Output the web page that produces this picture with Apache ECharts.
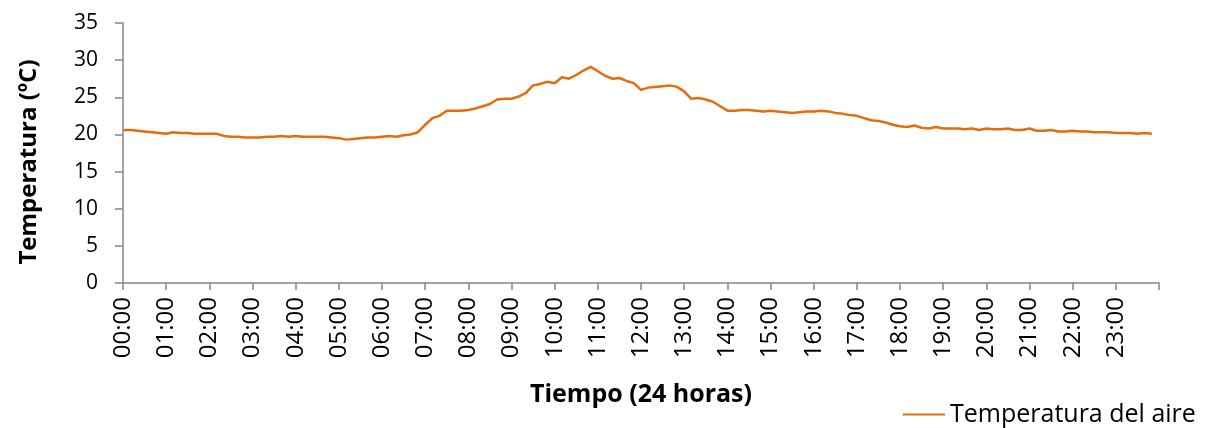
<!DOCTYPE html>
<html>
<head>
<meta charset="utf-8">
<script src="https://cdn.jsdelivr.net/npm/echarts@6/dist/echarts.min.js"></script>
<style>
  html, body { margin: 0; padding: 0; background: #fff; }
  #chart { width: 1219px; height: 428px; }
</style>
</head>
<body>
<div id="chart"></div>
<script>
// readings every 10 minutes, from 00:00 to 23:50
var times = [];
for (var h = 0; h < 24; h++) {
  for (var m = 0; m < 60; m += 10) {
    times.push((h < 10 ? '0' + h : '' + h) + ':' + (m < 10 ? '0' + m : '' + m));
  }
}

var airTemp = [
  20.6, 20.6, 20.5, 20.4, 20.3, 20.2,   // 00
  20.1, 20.3, 20.2, 20.2, 20.1, 20.1,   // 01
  20.1, 20.1, 19.8, 19.7, 19.7, 19.6,   // 02
  19.6, 19.6, 19.7, 19.7, 19.8, 19.7,   // 03
  19.8, 19.7, 19.7, 19.7, 19.7, 19.6,   // 04
  19.5, 19.3, 19.4, 19.5, 19.6, 19.6,   // 05
  19.7, 19.8, 19.7, 19.9, 20.0, 20.3,   // 06
  21.3, 22.2, 22.5, 23.2, 23.2, 23.2,   // 07
  23.3, 23.5, 23.8, 24.1, 24.7, 24.8,   // 08
  24.8, 25.1, 25.6, 26.6, 26.8, 27.1,   // 09
  26.9, 27.7, 27.5, 28.0, 28.6, 29.1,   // 10
  28.5, 27.9, 27.5, 27.6, 27.2, 26.9,   // 11
  26.0, 26.3, 26.4, 26.5, 26.6, 26.4,   // 12
  25.8, 24.8, 24.9, 24.7, 24.4, 23.8,   // 13
  23.2, 23.2, 23.3, 23.3, 23.2, 23.1,   // 14
  23.2, 23.1, 23.0, 22.9, 23.0, 23.1,   // 15
  23.1, 23.2, 23.1, 22.9, 22.8, 22.6,   // 16
  22.5, 22.2, 21.9, 21.8, 21.6, 21.3,   // 17
  21.1, 21.0, 21.2, 20.9, 20.8, 21.0,   // 18
  20.8, 20.8, 20.8, 20.7, 20.8, 20.6,   // 19
  20.8, 20.7, 20.7, 20.8, 20.6, 20.6,   // 20
  20.8, 20.5, 20.5, 20.6, 20.4, 20.4,   // 21
  20.5, 20.4, 20.4, 20.3, 20.3, 20.3,   // 22
  20.2, 20.2, 20.2, 20.1, 20.2, 20.1    // 23
];

var hourLabels = ['00:00','01:00','02:00','03:00','04:00','05:00','06:00','07:00',
  '08:00','09:00','10:00','11:00','12:00','13:00','14:00','15:00',
  '16:00','17:00','18:00','19:00','20:00','21:00','22:00','23:00'];

var seriesName = 'Temperatura del aire';
var fontName = 'Open Sans';

function toHours(t) {
  var p = t.split(':');
  return parseInt(p[0], 10) + parseInt(p[1], 10) / 60;
}

var points = times.map(function (t, i) {
  return [toHours(t), airTemp[i]];
});

var chart = echarts.init(document.getElementById('chart'));

var option = {
  animation: false,
  grid: { left: 123, right: 60, top: 23, bottom: 145 },
  legend: {
    left: 898,
    top: 397,
    icon: 'rect',
    itemWidth: 42,
    itemHeight: 2,
    itemGap: 4,
    textStyle: { fontFamily: fontName, fontSize: 25, color: '#000' },
    data: [seriesName]
  },
  xAxis: {
    type: 'value',
    min: 0,
    max: 24,
    interval: 1,
    name: 'Tiempo (24 horas)',
    nameLocation: 'middle',
    nameGap: 99,
    nameTextStyle: { fontFamily: fontName, fontSize: 25, fontWeight: 'bold', color: '#000' },
    axisLine: { lineStyle: { color: '#868686', width: 1.5 } },
    axisTick: { length: 7, lineStyle: { color: '#868686', width: 1.5 } },
    axisLabel: {
      rotate: 90,
      margin: 14,
      fontFamily: fontName,
      fontSize: 24,
      color: '#000',
      formatter: function (v) { return hourLabels[v] || ''; }
    },
    splitLine: { show: false }
  },
  yAxis: {
    type: 'value',
    min: 0,
    max: 35,
    interval: 5,
    name: 'Temperatura (ºC)',
    nameLocation: 'middle',
    nameGap: 82,
    nameTextStyle: {
      fontFamily: fontName, fontSize: 24, fontWeight: 'bold', color: '#000',
      padding: [0, 18, 0, 0]
    },
    axisLine: { show: true, lineStyle: { color: '#868686', width: 1.5 } },
    axisTick: { show: true, length: 8, lineStyle: { color: '#868686', width: 1.5 } },
    axisLabel: { margin: 25, fontFamily: fontName, fontSize: 21, color: '#000' },
    splitLine: { show: false }
  },
  series: [{
    name: seriesName,
    type: 'line',
    data: points,
    showSymbol: false,
    symbol: 'none',
    lineStyle: { color: '#E46C0A', width: 2.5 },
    itemStyle: { color: '#E46C0A' }
  }]
};

chart.setOption(option);
</script>
</body>
</html>
